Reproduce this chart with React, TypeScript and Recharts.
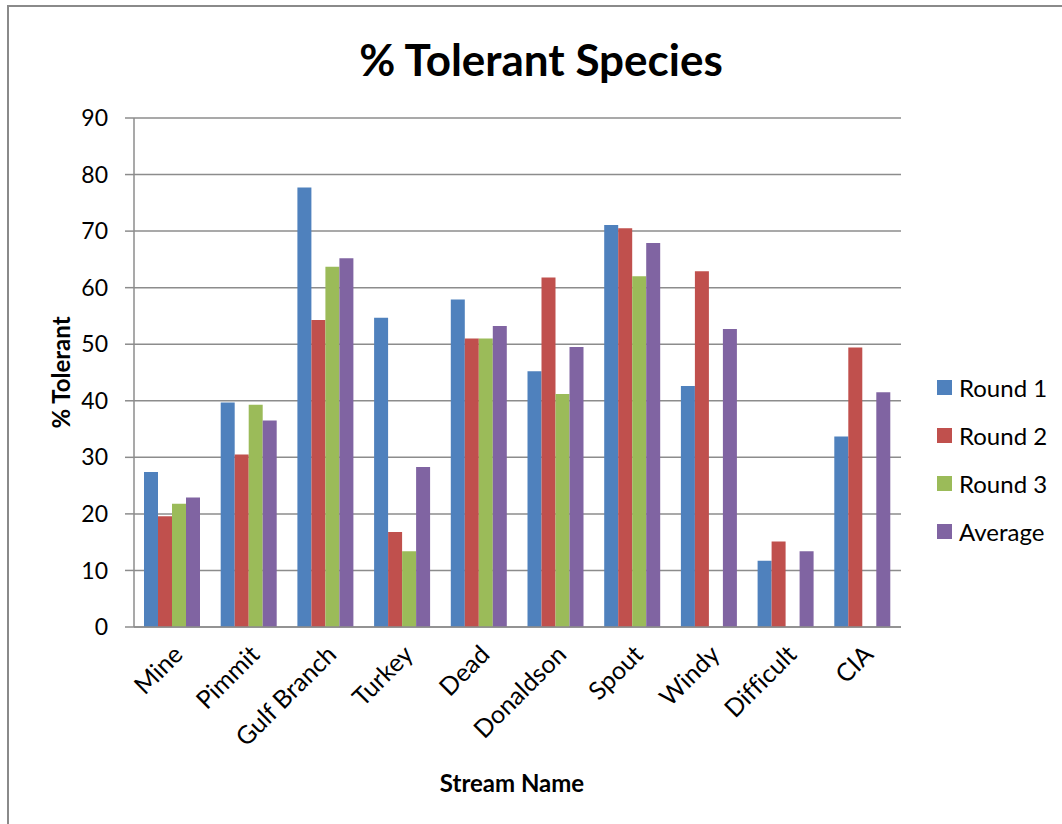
import React from "react";
import { BarChart, Bar, XAxis, YAxis, CartesianGrid, Legend, Customized } from "recharts";

const streams = ["Mine", "Pimmit", "Gulf Branch", "Turkey", "Dead", "Donaldson", "Spout", "Windy", "Difficult", "CIA"];
const round1 = [27.4, 39.7, 77.7, 54.7, 57.9, 45.2, 71.1, 42.6, 11.7, 33.7];
const round2 = [19.6, 30.5, 54.3, 16.8, 51.0, 61.8, 70.5, 62.9, 15.1, 49.4];
const round3 = [21.8, 39.3, 63.7, 13.4, 51.0, 41.2, 62.0, null, null, null];
const average = [22.9, 36.5, 65.2, 28.3, 53.2, 49.5, 67.9, 52.7, 13.4, 41.5];
const yTicks = [0, 10, 20, 30, 40, 50, 60, 70, 80, 90];

const seriesNames = ["Round 1", "Round 2", "Round 3", "Average"];
const seriesColors = ["#4F81BD", "#C0504D", "#9BBB59", "#8064A2"];

const data = streams.map((name, i) => ({
  name,
  r1: round1[i],
  r2: round2[i],
  r3: round3[i],
  avg: average[i],
}));

const FONT = "Lato, 'Open Sans', sans-serif";
const GRID = "#8c8c8c";

const CategoryTick = (props: any) => {
  const { x, y, payload } = props;
  const ax = x + 5;
  const ay = y + 14;
  return (
    <text
      x={ax}
      y={ay}
      transform={`rotate(-45, ${ax}, ${ay})`}
      textAnchor="end"
      dominantBaseline="central"
      fontFamily={FONT}
      fontSize={25}
      fill="#000"
      style={{ fontVariantLigatures: "none" }}
    >
      {payload.value}
    </text>
  );
};

const LegendBox = () => (
  <div style={{ fontFamily: FONT, fontSize: 24, color: "#000" }}>
    {seriesNames.map((n, i) => (
      <div key={n} style={{ height: 48, display: "flex", alignItems: "center" }}>
        <span style={{ display: "inline-block", width: 15, height: 15, background: seriesColors[i], marginRight: 7 }} />
        <span>{n}</span>
      </div>
    ))}
  </div>
);

const Titles = (props: any) => {
  const off = props.offset || {};
  const left = off.left ?? 134;
  const top = off.top ?? 118;
  const w = off.width ?? 766;
  const h = off.height ?? 509;
  return (
    <g fontFamily={FONT} fill="#000">
      <text x={541} y={59} textAnchor="middle" dominantBaseline="central" fontSize={44} fontWeight={700}>
        % Tolerant Species
      </text>
      <text
        x={60}
        y={top + h / 2}
        transform={`rotate(-90, 60, ${top + h / 2})`}
        textAnchor="middle"
        dominantBaseline="central"
        fontSize={24}
        fontWeight={700}
      >
        % Tolerant
      </text>
      <text x={left + w / 2 - 5} y={782} textAnchor="middle" dominantBaseline="central" fontSize={24} fontWeight={700}>
        Stream Name
      </text>
    </g>
  );
};

export default function App() {
  return (
    <div style={{ position: "fixed", left: 0, top: 0, width: 1062, height: 824, background: "#fff", overflow: "hidden" }}>
      <div
        style={{
          position: "absolute",
          left: 7,
          top: 5,
          width: 1100,
          height: 900,
          borderLeft: "2px solid #8a8a8a",
          borderTop: "2px solid #8a8a8a",
        }}
      />
      <div style={{ position: "absolute", left: 0, top: 0 }}>
        <BarChart
          width={1062}
          height={824}
          data={data}
          margin={{ top: 118, right: 161, bottom: 0, left: 0 }}
          barCategoryGap={10}
          barGap={0}
        >
          <CartesianGrid vertical={false} stroke={GRID} strokeWidth={1.5} />
          <XAxis
            dataKey="name"
            height={197}
            interval={0}
            tickLine={false}
            axisLine={{ stroke: GRID, strokeWidth: 1.5 }}
            tick={<CategoryTick />}
          />
          <YAxis
            width={134}
            domain={[0, 90]}
            ticks={yTicks}
            interval={0}
            tickSize={9}
            tickMargin={17}
            tickLine={{ stroke: GRID, strokeWidth: 1.5 }}
            axisLine={{ stroke: GRID, strokeWidth: 1.5 }}
            tick={{ fill: "#000", fontSize: 23, fontFamily: FONT }}
          />
          <Legend
            layout="vertical"
            align="center"
            verticalAlign="middle"
            wrapperStyle={{ left: 937, top: 363, width: 125 }}
            content={<LegendBox />}
          />
          <Bar dataKey="r1" name="Round 1" fill={seriesColors[0]} isAnimationActive={false} />
          <Bar dataKey="r2" name="Round 2" fill={seriesColors[1]} isAnimationActive={false} />
          <Bar dataKey="r3" name="Round 3" fill={seriesColors[2]} isAnimationActive={false} />
          <Bar dataKey="avg" name="Average" fill={seriesColors[3]} isAnimationActive={false} />
          <Customized component={Titles} />
        </BarChart>
      </div>
    </div>
  );
}
